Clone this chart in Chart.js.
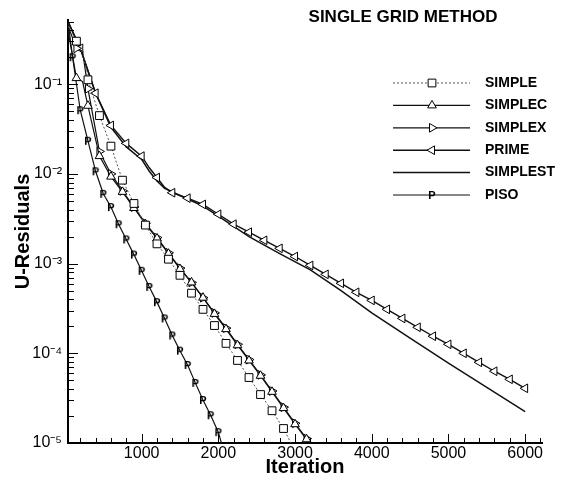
<!DOCTYPE html>
<html>
<head>
<meta charset="utf-8">
<script src="https://cdn.jsdelivr.net/npm/chart.js@4.4.0/dist/chart.umd.min.js"></script>
<style>
  body { margin: 0; background: #fff; }
  canvas { display: block; }
</style>
</head>
<body>
<canvas id="residChart" width="571" height="479"></canvas>
<script>
// values (iteration, U-residual)
const seriesNames = ['SIMPLE', 'SIMPLEC', 'SIMPLEX', 'PRIME', 'SIMPLEST', 'PISO'];

const simpleIter = [40, 150, 230, 300, 450, 600, 750, 900, 1050, 1200, 1350, 1500, 1650, 1800, 1950, 2100, 2250, 2400, 2550, 2700, 2850, 2960];
const simpleRes = [0.447, 0.302, 0.240, 0.112, 0.0447, 0.0204, 0.00851, 0.00468, 0.00269, 0.00166, 0.00112, 7.41e-4, 4.68e-4, 3.09e-4, 2.04e-4, 1.29e-4, 8.32e-5, 5.37e-5, 3.47e-5, 2.29e-5, 1.45e-5, 9.5e-6];

const simplecIter = [40, 150, 230, 300, 450, 600, 750, 900, 1050, 1200, 1350, 1500, 1650, 1800, 1950, 2100, 2250, 2400, 2550, 2700, 2850, 3000, 3150, 3250];
const simplecRes = [0.398, 0.117, 0.107, 0.0575, 0.0158, 0.00933, 0.00631, 0.00417, 0.00275, 0.00191, 0.00129, 8.71e-4, 6.17e-4, 4.17e-4, 2.75e-4, 1.86e-4, 1.23e-4, 8.32e-5, 5.62e-5, 3.72e-5, 2.45e-5, 1.62e-5, 1.10e-5, 8.3e-6];

const simplexIter = [40, 150, 230, 300, 450, 600, 750, 900, 1050, 1200, 1350, 1500, 1650, 1800, 1950, 2100, 2250, 2400, 2550, 2700, 2850, 3000, 3150, 3250];
const simplexRes = [0.447, 0.251, 0.234, 0.0891, 0.0178, 0.0100, 0.00646, 0.00427, 0.00282, 0.00195, 0.00132, 8.91e-4, 6.17e-4, 4.17e-4, 2.82e-4, 1.91e-4, 1.26e-4, 8.51e-5, 5.75e-5, 3.80e-5, 2.51e-5, 1.66e-5, 1.12e-5, 8.5e-6];

const primeIter = [40, 200, 400, 600, 800, 1000, 1100, 1200, 1300, 1400, 1500, 1600, 1800, 2000, 2200, 2400, 2600, 2800, 3000, 3200, 3400, 3600, 3800, 4000, 4200, 4400, 4600, 4800, 5000, 5200, 5400, 5600, 5800, 6000];
const primeRes = [0.501, 0.251, 0.0794, 0.0347, 0.0219, 0.0158, 0.0117, 0.00912, 0.00708, 0.00617, 0.00575, 0.00537, 0.00457, 0.00355, 0.00275, 0.00224, 0.00182, 0.00148, 0.00120, 9.55e-4, 7.59e-4, 6.03e-4, 4.79e-4, 3.89e-4, 3.09e-4, 2.45e-4, 1.95e-4, 1.55e-4, 1.26e-4, 1.00e-4, 7.94e-5, 6.31e-5, 5.13e-5, 4.07e-5];

const simplestIter = [40, 200, 400, 600, 800, 1000, 1100, 1200, 1300, 1400, 1500, 1600, 1800, 2000, 2400, 2800, 3200, 3600, 4000, 4500, 5000, 5500, 6000];
const simplestRes = [0.501, 0.251, 0.0794, 0.0331, 0.0200, 0.0145, 0.0107, 0.00832, 0.00692, 0.00631, 0.00575, 0.00525, 0.00437, 0.00339, 0.00200, 0.00129, 8.51e-4, 5.01e-4, 2.82e-4, 1.48e-4, 7.76e-5, 4.17e-5, 2.24e-5];

const pisoIter = [40, 100, 200, 300, 400, 500, 600, 700, 800, 900, 1000, 1100, 1200, 1300, 1400, 1500, 1600, 1700, 1800, 1900, 2000, 2060];
const pisoRes = [0.50, 0.200, 0.0513, 0.0234, 0.0107, 0.0060, 0.00427, 0.00275, 0.00186, 0.00126, 8.32e-4, 5.50e-4, 3.72e-4, 2.45e-4, 1.58e-4, 1.07e-4, 7.41e-5, 4.68e-5, 3.02e-5, 2.04e-5, 1.32e-5, 8.7e-6];

const xLabelled = [1000, 2000, 3000, 4000, 5000, 6000];
const xMinorStep = 200;
const yDecades = [-5, -4, -3, -2, -1];

// "P" marker for PISO
const pMark = document.createElement('canvas');
pMark.width = 10; pMark.height = 12;
const pc = pMark.getContext('2d');
pc.font = 'bold 11px "Liberation Sans", Arial, sans-serif';
pc.textAlign = 'center';
pc.textBaseline = 'middle';
pc.fillStyle = '#000';
pc.fillText('P', 5, 6.5);

const looks = [
  { color: '#555', width: 1, dash: [2, 2], point: 'rect', rot: 0, r: 5.5, step: 150 },
  { color: '#111', width: 1.2, dash: [], point: 'triangle', rot: 0, r: 5, step: 150 },
  { color: '#111', width: 1.2, dash: [], point: 'triangle', rot: 90, r: 5, step: 150 },
  { color: '#111', width: 1.4, dash: [], point: 'triangle', rot: 270, r: 5, step: 200 },
  { color: '#111', width: 1.5, dash: [], point: false, rot: 0, r: 0, step: 0 },
  { color: '#111', width: 1.2, dash: [], point: pMark, rot: 0, r: 5, step: 100 }
];

const iters = [simpleIter, simplecIter, simplexIter, primeIter, simplestIter, pisoIter];
const resids = [simpleRes, simplecRes, simplexRes, primeRes, simplestRes, pisoRes];

const datasets = seriesNames.map((name, i) => {
  const lk = looks[i];
  return {
    label: name,
    data: iters[i].map((it, k) => ({ x: it, y: resids[i][k] })),
    borderColor: lk.color,
    borderWidth: lk.width,
    borderDash: lk.dash,
    pointStyle: lk.point,
    rotation: lk.rot,
    pointBorderColor: '#000',
    pointBackgroundColor: '#fff',
    pointBorderWidth: 1,
    pointRadius: ctx => (lk.step && ctx.raw && ctx.raw.x % lk.step === 0) ? lk.r : 0,
    tension: 0,
    fill: false
  };
});

const sup = { '-': '\u207B', '1': '\u00B9', '2': '\u00B2', '3': '\u00B3', '4': '\u2074', '5': '\u2075' };
function decadeLabel(e) {
  return '10' + String(e).split('').map(c => sup[c]).join('');
}

const headTitle = {
  id: 'headTitle',
  afterDraw(chart) {
    const ctx = chart.ctx;
    ctx.save();
    ctx.font = 'bold 17px "Liberation Sans", Arial, sans-serif';
    ctx.fillStyle = '#000';
    ctx.textAlign = 'center';
    ctx.textBaseline = 'middle';
    ctx.fillText('SINGLE GRID METHOD', 403, 17);
    ctx.restore();
  }
};

const insideTicks = {
  id: 'insideTicks',
  afterDatasetsDraw(chart) {
    const { ctx, chartArea: a, scales: { x, y } } = chart;
    ctx.save();
    ctx.strokeStyle = '#000';
    ctx.lineWidth = 1;
    ctx.beginPath();
    x.ticks.forEach(t => {
      if (t.value < x.min || t.value > x.max) return;
      const px = Math.round(x.getPixelForValue(t.value)) + 0.5;
      const len = xLabelled.includes(t.value) ? 9 : 5;
      ctx.moveTo(px, a.bottom);
      ctx.lineTo(px, a.bottom - len);
    });
    y.ticks.forEach(t => {
      const e = Math.floor(Math.log10(t.value) + 1e-9);
      const m = t.value / Math.pow(10, e);
      if (Math.abs(m - Math.round(m)) > 1e-6) return;
      const py = Math.round(y.getPixelForValue(t.value)) + 0.5;
      const len = Math.round(m) === 1 ? 10 : 6;
      ctx.moveTo(a.left, py);
      ctx.lineTo(a.left + len, py);
    });
    ctx.stroke();
    ctx.restore();
  }
};

const sideLegend = {
  id: 'sideLegend',
  afterDraw(chart) {
    const ctx = chart.ctx;
    ctx.save();
    chart.data.datasets.forEach((ds, i) => {
      const lk = looks[i];
      const yy = 83 + i * 22.4;
      ctx.strokeStyle = lk.color;
      ctx.lineWidth = lk.width;
      ctx.setLineDash(lk.dash);
      ctx.beginPath();
      ctx.moveTo(393, yy);
      ctx.lineTo(470, yy);
      ctx.stroke();
      ctx.setLineDash([]);
      if (lk.point) {
        ctx.fillStyle = '#fff';
        ctx.strokeStyle = '#000';
        ctx.lineWidth = 1;
        Chart.helpers.drawPoint(ctx, { pointStyle: lk.point, rotation: lk.rot, radius: lk.r, borderWidth: 1 }, 432, yy);
      }
      ctx.fillStyle = '#000';
      ctx.font = 'bold 14px "Liberation Sans", Arial, sans-serif';
      ctx.textAlign = 'left';
      ctx.textBaseline = 'middle';
      ctx.fillText(ds.label, 485, yy);
    });
    ctx.restore();
  }
};

Chart.defaults.font.family = '"Liberation Sans", Arial, sans-serif';
Chart.defaults.color = '#000';

const ctx = document.getElementById('residChart').getContext('2d');
const residChart = new Chart(ctx, {
  type: 'line',
  data: { datasets: datasets },
  options: {
    responsive: false,
    animation: false,
    layout: { padding: { top: 20, right: 29, left: 0, bottom: 0 } },
    plugins: { legend: { display: false }, tooltip: { enabled: false } },
    scales: {
      x: {
        type: 'linear',
        min: 40,
        max: 6220,
        border: { display: true, color: '#000', width: 2 },
        grid: { display: true, drawOnChartArea: false, drawTicks: false },
        afterBuildTicks: s => {
          const ticks = [];
          for (let v = xMinorStep; v <= s.max; v += xMinorStep) ticks.push({ value: v });
          s.ticks = ticks;
        },
        ticks: {
          autoSkip: false,
          maxRotation: 0,
          minRotation: 0,
          padding: 1,
          font: { size: 16 },
          callback: v => xLabelled.includes(v) ? String(v) : ''
        },
        title: { display: true, text: 'Iteration', font: { size: 20, weight: 'bold' }, padding: 0 },
        afterFit: s => { s.height = 36; }
      },
      y: {
        type: 'logarithmic',
        min: 1e-5,
        max: 0.52,
        border: { display: true, color: '#000', width: 2 },
        grid: { display: true, drawOnChartArea: false, drawTicks: false },
        ticks: {
          autoSkip: false,
          padding: 6,
          font: { size: 16 },
          callback: v => {
            const e = Math.round(Math.log10(v));
            return (yDecades.includes(e) && Math.abs(Math.log10(v) - e) < 1e-6) ? decadeLabel(e) : '';
          }
        },
        title: { display: true, text: 'U-Residuals', font: { size: 20, weight: 'bold' }, padding: { top: 11, bottom: 0 } },
        afterFit: s => { s.width = 68; }
      }
    }
  },
  plugins: [insideTicks, sideLegend, headTitle]
});
</script>
</body>
</html>
